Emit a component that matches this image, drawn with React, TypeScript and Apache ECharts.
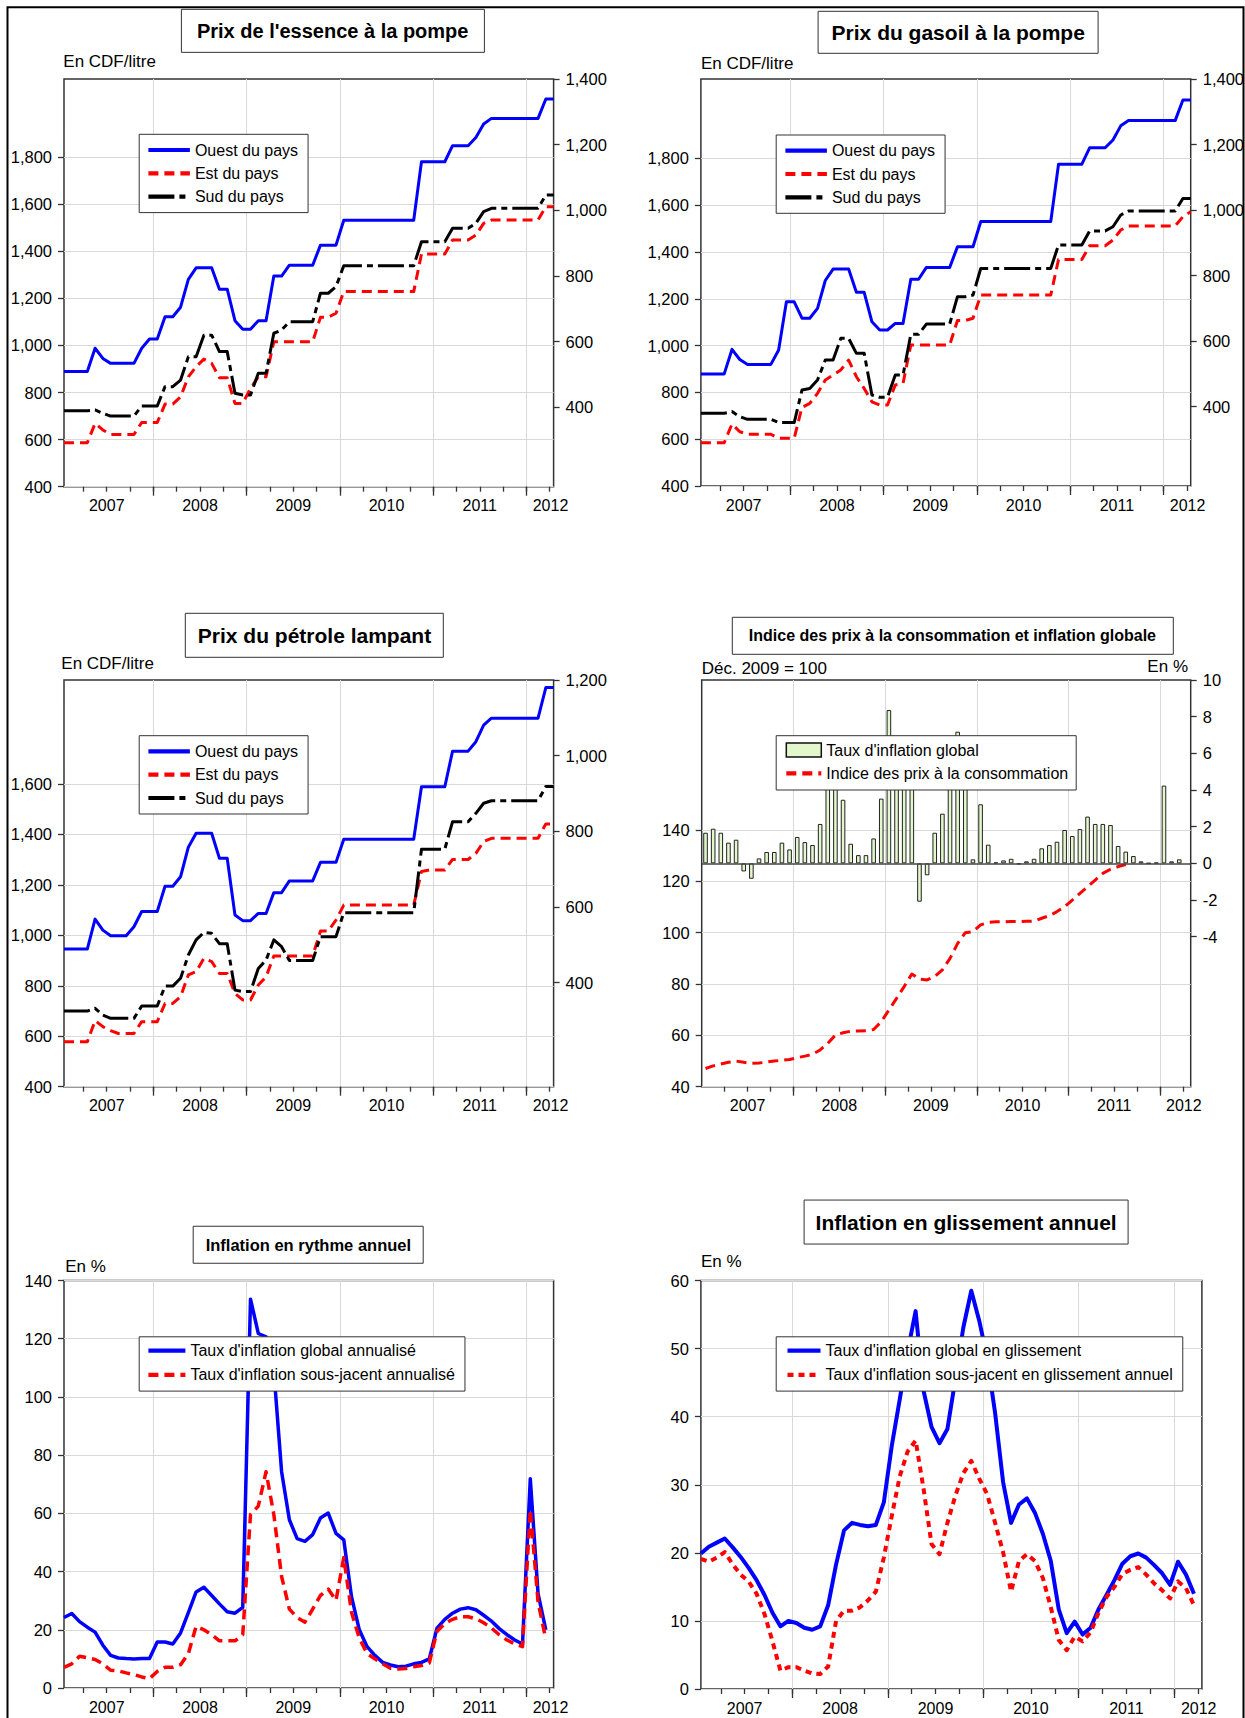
import React, { useEffect, useRef } from 'react';
import * as echarts from 'echarts';

const FONT = "'Liberation Sans', Arial, Helvetica, sans-serif";

// ---------- x axis (monthly, Jan 2007 = index 0) ----------
const YEAR_LABELS = ['2007', '2008', '2009', '2010', '2011', '2012'];
const LABEL_POS = [5.5, 17.5, 29.5, 41.5, 53.5, 62.6];
const QUARTER_TICKS = [2.5, 5.5, 8.5, 11.5, 14.5, 17.5, 20.5, 23.5, 26.5, 29.5, 32.5, 35.5, 38.5, 41.5, 44.5, 47.5, 50.5, 53.5, 56.5, 59.5, 62.5];
const YEAR_TICKS = [11.5, 23.5, 35.5, 47.5, 59.5];
// bar panel (slots, bar i centred at i + 0.5)
const LABEL_POS_BAR = [6, 18, 30, 42, 54, 63.1];
const QUARTER_TICKS_BAR = [3, 6, 9, 12, 15, 18, 21, 24, 27, 30, 33, 36, 39, 42, 45, 48, 51, 54, 57, 60, 63];
const YEAR_TICKS_BAR = [12, 24, 36, 48, 60];

// ---------- y tick labels ----------
const PRICE_LEFT_TICKS = [400, 600, 800, 1000, 1200, 1400, 1600, 1800];
const PRICE_RIGHT_TICKS = [400, 600, 800, 1000, 1200, 1400];
const PETROLE_LEFT_TICKS = [400, 600, 800, 1000, 1200, 1400, 1600];
const PETROLE_RIGHT_TICKS = [400, 600, 800, 1000, 1200];
const IPC_TICKS = [40, 60, 80, 100, 120, 140];
const INFL_TICKS = [-4, -2, 0, 2, 4, 6, 8, 10];
const RYTHME_TICKS = [0, 20, 40, 60, 80, 100, 120, 140];
const GLISSEMENT_TICKS = [0, 10, 20, 30, 40, 50, 60];

// ---------- Prix de l'essence (CDF/litre) ----------
const ESSENCE_OUEST = [509, 509, 509, 509, 580, 549, 534, 534, 534, 534, 580, 608, 608, 676, 676, 705, 790, 825, 825, 825, 760, 760, 664, 638, 638, 664, 664, 800, 800, 833, 833, 833, 833, 894, 894, 894, 970, 970, 970, 970, 970, 970, 970, 970, 970, 970, 1148, 1148, 1148, 1148, 1197, 1197, 1197, 1222, 1263, 1280, 1280, 1280, 1280, 1280, 1280, 1280, 1339, 1339];
const ESSENCE_EST = [587, 587, 587, 587, 669, 641, 622, 622, 622, 622, 673, 673, 673, 751, 751, 782, 867, 910, 942, 924, 863, 863, 754, 754, 818, 867, 867, 1016, 1016, 1016, 1016, 1016, 1016, 1120, 1120, 1137, 1229, 1229, 1229, 1229, 1229, 1229, 1229, 1229, 1229, 1229, 1389, 1389, 1389, 1389, 1448, 1448, 1448, 1469, 1519, 1533, 1533, 1533, 1533, 1533, 1533, 1533, 1590, 1590];
const ESSENCE_SUD = [723, 723, 723, 723, 726, 712, 700, 700, 700, 700, 743, 743, 743, 825, 825, 853, 952, 952, 1044, 1044, 974, 974, 797, 790, 790, 882, 882, 1052, 1066, 1101, 1101, 1101, 1101, 1222, 1222, 1250, 1339, 1339, 1339, 1339, 1339, 1339, 1339, 1339, 1339, 1339, 1441, 1441, 1441, 1441, 1498, 1498, 1498, 1519, 1569, 1583, 1583, 1583, 1583, 1583, 1583, 1583, 1639, 1639];

// ---------- Prix du gasoil ----------
const GASOIL_OUEST = [500, 500, 500, 500, 575, 544, 529, 529, 529, 529, 573, 720, 720, 670, 670, 700, 785, 820, 820, 820, 749, 749, 659, 634, 634, 654, 654, 789, 789, 825, 825, 825, 825, 888, 888, 888, 965, 965, 965, 965, 965, 965, 965, 965, 965, 965, 1140, 1140, 1140, 1140, 1190, 1190, 1190, 1214, 1257, 1273, 1273, 1273, 1273, 1273, 1273, 1273, 1336, 1336];
const GASOIL_EST = [585, 585, 585, 585, 665, 632, 621, 621, 621, 621, 604, 604, 604, 736, 753, 796, 853, 874, 896, 938, 867, 817, 760, 746, 746, 832, 839, 1003, 1003, 1003, 1003, 1003, 1003, 1107, 1107, 1117, 1216, 1216, 1216, 1216, 1216, 1216, 1216, 1216, 1216, 1216, 1368, 1368, 1368, 1368, 1427, 1427, 1427, 1451, 1494, 1511, 1511, 1511, 1511, 1511, 1511, 1511, 1551, 1572];
const GASOIL_SUD = [711, 711, 711, 711, 718, 696, 685, 685, 685, 685, 671, 671, 671, 810, 817, 853, 938, 938, 1031, 1031, 967, 967, 789, 779, 779, 874, 874, 1048, 1048, 1092, 1092, 1092, 1092, 1209, 1209, 1216, 1330, 1330, 1330, 1330, 1330, 1330, 1330, 1330, 1330, 1330, 1430, 1430, 1430, 1430, 1490, 1490, 1490, 1508, 1558, 1575, 1575, 1575, 1575, 1575, 1575, 1575, 1629, 1629];

// ---------- Prix du pétrole lampant ----------
const PETROLE_OUEST = [489, 489, 489, 489, 568, 539, 524, 524, 524, 548, 588, 588, 588, 655, 655, 680, 758, 795, 795, 795, 729, 729, 579, 564, 564, 583, 583, 638, 638, 669, 669, 669, 669, 718, 718, 718, 779, 779, 779, 779, 779, 779, 779, 779, 779, 779, 918, 918, 918, 918, 1012, 1012, 1012, 1037, 1081, 1099, 1099, 1099, 1099, 1099, 1099, 1099, 1180, 1180];
const PETROLE_EST = [578, 578, 578, 578, 662, 638, 622, 611, 611, 611, 658, 658, 658, 730, 730, 757, 843, 856, 909, 896, 849, 849, 770, 744, 744, 803, 836, 918, 918, 918, 918, 918, 918, 1017, 1017, 1061, 1120, 1120, 1120, 1120, 1120, 1120, 1120, 1120, 1120, 1120, 1253, 1259, 1259, 1259, 1301, 1301, 1301, 1325, 1372, 1385, 1385, 1385, 1385, 1385, 1385, 1385, 1442, 1442];
const PETROLE_SUD = [700, 700, 700, 700, 711, 684, 671, 671, 671, 671, 720, 720, 720, 799, 799, 830, 922, 982, 1012, 1008, 967, 967, 783, 777, 777, 869, 902, 982, 955, 900, 900, 900, 900, 995, 995, 995, 1090, 1090, 1090, 1090, 1090, 1090, 1090, 1090, 1090, 1090, 1342, 1342, 1342, 1342, 1451, 1451, 1451, 1484, 1524, 1534, 1534, 1534, 1534, 1534, 1534, 1534, 1590, 1590];

// ---------- IPC (Déc. 2009 = 100) et inflation mensuelle (%) ----------
const INFLATION_GLOBALE = [1.67, 1.89, 1.67, 1.13, 1.29, -0.44, -0.84, 0.27, 0.62, 0.62, 1.13, 0.76, 1.44, 1.16, 1.0, 2.15, 4.9, 5.5, 3.47, 1.07, 0.45, 0.45, 1.36, 3.53, 8.36, 6.5, 6.3, 6.0, -2.09, -0.65, 1.67, 2.71, 5.2, 7.18, 4.6, 0.22, 3.22, 1.02, 0.05, 0.16, 0.25, -0.05, 0.11, 0.25, 0.82, 1.0, 1.18, 1.82, 1.49, 1.87, 2.55, 2.15, 2.15, 2.09, 0.95, 0.64, 0.4, 0.11, 0.01, 0.04, 4.24, 0.11, 0.22];
const IPC = [47.1, 48.1, 48.8, 49.5, 50.0, 49.5, 49.1, 49.2, 49.6, 50.0, 50.3, 50.6, 51.3, 51.9, 52.6, 54.3, 56.9, 60.1, 61.0, 61.6, 61.7, 61.8, 62.3, 65.3, 69.9, 74.4, 79.0, 83.9, 81.9, 81.6, 82.9, 85.5, 90.0, 95.8, 100.0, 100.4, 103.0, 104.0, 104.2, 104.2, 104.3, 104.3, 104.4, 104.5, 105.6, 106.6, 108.2, 110.1, 112.7, 115.3, 117.9, 120.5, 123.1, 124.7, 125.7, 126.5];

// ---------- Inflation en rythme annuel (%) ----------
const RYTHME_GLOBAL = [24.2, 25.6, 22.8, 20.9, 19.2, 14.7, 11.2, 10.3, 10.1, 10.0, 10.1, 10.1, 15.8, 15.8, 15.1, 18.9, 25.9, 33.0, 34.6, 31.8, 28.9, 26.2, 25.7, 27.7, 133.6, 121.8, 120.6, 109, 74.3, 57.8, 51.3, 50.4, 52.7, 58.4, 60.1, 53.1, 50.9, 31.3, 20.0, 14.2, 11.2, 8.8, 7.9, 7.3, 7.5, 8.3, 8.8, 10.0, 20.6, 23.6, 25.7, 27.1, 27.6, 26.9, 25.0, 23.0, 20.4, 18.3, 16.5, 15.1, 71.9, 32.4, 20.0];
const RYTHME_SOUS_JACENT = [7.1, 8.3, 10.9, 10.4, 9.8, 8.3, 6.1, 5.9, 5.2, 4.6, 3.8, 3.2, 5.7, 7.1, 7.1, 8.0, 11.8, 21.2, 20.0, 18.3, 16.2, 16.2, 16.2, 18.3, 59.6, 62.5, 74.3, 59.6, 38.3, 27.1, 24.2, 22.6, 27.1, 31.8, 34.0, 30.1, 44.8, 25.9, 17.1, 11.8, 10.0, 8.3, 6.8, 6.5, 6.7, 7.3, 7.7, 8.6, 19.5, 22.1, 23.6, 24.5, 24.5, 23.8, 22.4, 20.6, 18.3, 16.5, 15.1, 14.2, 61.3, 29.5, 16.7];

// ---------- Inflation en glissement annuel (%) ----------
const GLISSEMENT_GLOBAL = [19.9, 20.9, 21.5, 22.1, 20.8, 19.4, 17.8, 16.0, 13.8, 11.2, 9.2, 10.0, 9.7, 9.0, 8.7, 9.2, 12.3, 18.3, 23.3, 24.4, 24.1, 23.9, 24.1, 27.4, 35.7, 42.5, 49.6, 55.5, 43.8, 38.5, 36.1, 38.2, 45.5, 53.1, 58.5, 54.1, 48.6, 40.5, 30.4, 24.4, 27.1, 28.0, 25.9, 22.8, 18.8, 11.7, 8.2, 9.9, 8.0, 9.0, 11.7, 13.8, 16.0, 18.4, 19.5, 19.9, 19.3, 18.2, 17.0, 15.3, 18.7, 16.8, 14.0];
const GLISSEMENT_SOUS_JACENT = [19.1, 18.7, 19.3, 20.1, 18.3, 16.8, 15.8, 14.0, 11.0, 7.0, 2.7, 3.2, 3.2, 2.7, 2.3, 2.2, 3.3, 10.0, 11.5, 11.5, 12.0, 13.0, 14.3, 19.3, 25.4, 31.2, 34.9, 36.5, 29.4, 21.3, 19.8, 24.4, 28.4, 31.7, 33.5, 30.9, 28.6, 24.4, 20.1, 14.3, 18.8, 19.8, 18.8, 16.3, 12.0, 7.2, 5.7, 7.7, 7.0, 8.3, 11.2, 13.5, 15.0, 16.9, 17.5, 17.9, 16.8, 15.5, 14.5, 13.3, 15.8, 14.8, 12.3];

const BLUE = '#0000ff';
const RED = '#ff0000';
const BLACK = '#000000';
const GRID_LINE = '#d9d9d9';
const FRAME = '#333333';

function fmtNum(v: number): string {
  const r = Math.round(v);
  if (r >= 1000) return Math.floor(r / 1000) + ',' + String(r % 1000).padStart(3, '0');
  return String(r);
}

function buildOption() {
  const grid: any[] = [];
  const xAxis: any[] = [];
  const yAxis: any[] = [];
  const series: any[] = [];

  const tickLine = { color: FRAME, width: 1.3 };

  function panel(rect: number[], xMax: number, minor: number[], major: number[], labelPos: number[], yDefs: any[]) {
    const gi = grid.length;
    grid.push({
      left: rect[0], top: rect[1], width: rect[2], height: rect[3],
      show: true, borderColor: FRAME, borderWidth: 1.5, backgroundColor: 'rgba(0,0,0,0)',
      containLabel: false, outerBoundsMode: 'none',
    });
    const xi = xAxis.length;
    xAxis.push({
      type: 'value', gridIndex: gi, min: 0, max: xMax, position: 'bottom',
      axisLine: { show: false, onZero: false },
      axisTick: { show: true, length: 5, customValues: minor, lineStyle: tickLine },
      axisLabel: {
        show: true, customValues: labelPos, margin: 11,
        formatter: (v: number) => { const k = labelPos.indexOf(v); return k >= 0 ? YEAR_LABELS[k] : ''; },
        color: '#000', fontSize: 16, fontFamily: FONT,
      },
      splitLine: { show: false },
    });
    xAxis.push({
      type: 'value', gridIndex: gi, min: 0, max: xMax, position: 'bottom',
      axisLine: { show: false, onZero: false },
      axisTick: { show: true, length: 9, customValues: major, lineStyle: tickLine },
      axisLabel: { show: false },
      splitLine: { show: true, lineStyle: { color: GRID_LINE, width: 1 } },
    });
    const yIdx = yDefs.map((d) => {
      const yi = yAxis.length;
      yAxis.push({
        type: 'value', gridIndex: gi, position: d.pos, min: d.min, max: d.max,
        axisLine: { show: false, onZero: false },
        axisTick: { show: true, length: 6, customValues: d.ticks, lineStyle: tickLine },
        axisLabel: { show: true, customValues: d.ticks, margin: 12, formatter: fmtNum, color: '#000', fontSize: 16.5, fontFamily: FONT },
        splitLine: { show: d.split, lineStyle: { color: GRID_LINE, width: 1 } },
      });
      return yi;
    });
    return { xi, yIdx };
  }

  function line(name: string, xi: number, yi: number, values: number[], color: string, width: number, dash: any, offset = 0) {
    return {
      type: 'line', name, xAxisIndex: xi, yAxisIndex: yi,
      data: values.map((v, i) => [i + offset, v]),
      symbol: 'none', showSymbol: false, silent: true, z: 3,
      lineStyle: { color, width, type: dash, cap: 'butt', join: 'round' },
      itemStyle: { color },
    };
  }

  const DASH_RED = [10, 6];
  const DASH_BLACK = [26, 5, 6, 5];

  // Panel 1 : essence
  const p1 = panel([64, 79, 489.6, 407.7], 63, QUARTER_TICKS, YEAR_TICKS, LABEL_POS, [
    { pos: 'left', min: 400, max: 2132.3, ticks: PRICE_LEFT_TICKS, split: true },
    { pos: 'right', min: 158.4, max: 1400, ticks: PRICE_RIGHT_TICKS, split: false },
  ]);
  series.push(line('Ouest du pays', p1.xi, p1.yIdx[1], ESSENCE_OUEST, BLUE, 3, 'solid'));
  series.push(line('Est du pays', p1.xi, p1.yIdx[0], ESSENCE_EST, RED, 3, DASH_RED));
  series.push(line('Sud du pays', p1.xi, p1.yIdx[0], ESSENCE_SUD, BLACK, 3, DASH_BLACK));

  // Panel 2 : gasoil
  const p2 = panel([700.9, 79, 489.8, 407], 63, QUARTER_TICKS, YEAR_TICKS, LABEL_POS, [
    { pos: 'left', min: 400, max: 2139.3, ticks: PRICE_LEFT_TICKS, split: true },
    { pos: 'right', min: 157.9, max: 1400, ticks: PRICE_RIGHT_TICKS, split: false },
  ]);
  series.push(line('Ouest du pays', p2.xi, p2.yIdx[1], GASOIL_OUEST, BLUE, 3, 'solid'));
  series.push(line('Est du pays', p2.xi, p2.yIdx[0], GASOIL_EST, RED, 3, DASH_RED));
  series.push(line('Sud du pays', p2.xi, p2.yIdx[0], GASOIL_SUD, BLACK, 3, DASH_BLACK));

  // Panel 3 : pétrole lampant
  const p3 = panel([64, 680, 489.6, 406.7], 63, QUARTER_TICKS, YEAR_TICKS, LABEL_POS, [
    { pos: 'left', min: 400, max: 2012.6, ticks: PETROLE_LEFT_TICKS, split: true },
    { pos: 'right', min: 125.1, max: 1200, ticks: PETROLE_RIGHT_TICKS, split: false },
  ]);
  series.push(line('Ouest du pays', p3.xi, p3.yIdx[1], PETROLE_OUEST, BLUE, 3, 'solid'));
  series.push(line('Est du pays', p3.xi, p3.yIdx[0], PETROLE_EST, RED, 3, DASH_RED));
  series.push(line('Sud du pays', p3.xi, p3.yIdx[0], PETROLE_SUD, BLACK, 3, DASH_BLACK));

  // Panel 4 : IPC et inflation globale
  const p4 = panel([701.7, 680, 489, 406.7], 64, QUARTER_TICKS_BAR, YEAR_TICKS_BAR, LABEL_POS_BAR, [
    { pos: 'left', min: 40, max: 198.4, ticks: IPC_TICKS, split: true },
    { pos: 'right', min: -12.18, max: 10, ticks: INFL_TICKS, split: false },
  ]);
  series.push({
    type: 'bar', name: "Taux d'inflation global", xAxisIndex: p4.xi, yAxisIndex: p4.yIdx[1],
    data: INFLATION_GLOBALE.map((v, i) => [i + 0.5, v]),
    barWidth: 4.6, silent: true, z: 2,
    itemStyle: { color: '#e2f7cb', borderColor: '#222', borderWidth: 1 },
    markLine: {
      silent: true, symbol: 'none', label: { show: false },
      lineStyle: { color: '#444', width: 1.6, type: 'solid' },
      data: [{ yAxis: 0 }],
    },
  });
  series.push(line('Indice des prix à la consommation', p4.xi, p4.yIdx[0], IPC, RED, 3, DASH_RED, 0.5));

  // Panel 5 : rythme annuel
  const p5 = panel([64, 1280.5, 489.6, 407.5], 63, QUARTER_TICKS, YEAR_TICKS, LABEL_POS, [
    { pos: 'left', min: 0, max: 140, ticks: RYTHME_TICKS, split: true },
  ]);
  series.push(line("Taux d'inflation global annualisé", p5.xi, p5.yIdx[0], RYTHME_GLOBAL, BLUE, 3.5, 'solid'));
  series.push(line("Taux d'inflation sous-jacent annualisé", p5.xi, p5.yIdx[0], RYTHME_SOUS_JACENT, RED, 3.5, DASH_RED));

  // Panel 6 : glissement annuel
  const p6 = panel([700.9, 1280.5, 501, 408.5], 63, QUARTER_TICKS, YEAR_TICKS, LABEL_POS, [
    { pos: 'left', min: 0, max: 60, ticks: GLISSEMENT_TICKS, split: true },
  ]);
  series.push(line("Taux d'inflation global en glissement", p6.xi, p6.yIdx[0], GLISSEMENT_GLOBAL, BLUE, 4, 'solid'));
  series.push(line("Taux d'inflation sous-jacent en glissement annuel", p6.xi, p6.yIdx[0], GLISSEMENT_SOUS_JACENT, RED, 4, [6, 5]));

  const legendBase = {
    orient: 'vertical', backgroundColor: '#fff', borderColor: FRAME, borderWidth: 1,
    itemHeight: 14, selectedMode: false, z: 10,
    textStyle: { fontSize: 16, color: '#000', fontFamily: FONT },
    itemStyle: { opacity: 0 },
    lineStyle: { width: 4.2 },
  };
  const legend = [
    { ...legendBase, left: 139.2, top: 134.3, padding: [7.7, 10, 8, 7.1], itemWidth: 41.5, itemGap: 7.3, data: ['Ouest du pays', 'Est du pays', 'Sud du pays'] },
    { ...legendBase, left: 776.2, top: 135, padding: [7.7, 10, 8, 7.1], itemWidth: 41.5, itemGap: 7.3, data: ['Ouest du pays', 'Est du pays', 'Sud du pays'] },
    { ...legendBase, left: 139.2, top: 735.7, padding: [7.7, 10, 8, 7.1], itemWidth: 41.5, itemGap: 7.3, data: ['Ouest du pays', 'Est du pays', 'Sud du pays'] },
    {
      ...legendBase, left: 776.2, top: 735.7, padding: [6.3, 8, 8.7, 8], itemWidth: 35, itemGap: 7.3,
      data: [{ name: "Taux d'inflation global", icon: 'rect', itemStyle: { opacity: 1, borderWidth: 1.5, borderColor: '#111' } }, 'Indice des prix à la consommation'],
    },
    { ...legendBase, left: 139.2, top: 1336.8, padding: [5.8, 10, 8.2, 7.1], itemWidth: 37, itemGap: 8.3, data: ["Taux d'inflation global annualisé", "Taux d'inflation sous-jacent annualisé"] },
    { ...legendBase, left: 776.2, top: 1336.8, padding: [5.8, 10, 8.2, 9.2], itemWidth: 33, itemGap: 8.3, data: ["Taux d'inflation global en glissement", "Taux d'inflation sous-jacent en glissement annuel"] },
  ];

  const tBox = (text: string, left: number, top: number, size: number, pv: number, ph: number) => ({
    text, left, top, padding: [pv, ph], borderColor: FRAME, borderWidth: 1,
    textStyle: { fontSize: size, fontWeight: 'bold', lineHeight: size, color: '#000', fontFamily: FONT },
  });
  const tNote = (text: string, pos: any) => ({
    text, ...pos, padding: 0,
    textStyle: { fontSize: 17, fontWeight: 'normal', lineHeight: 17, color: '#000', fontFamily: FONT },
  });

  const title = [
    tBox("Prix de l'essence à la pompe", 180.7, 9, 20, 11.85, 16.2),
    tBox('Prix du gasoil à la pompe', 818, 10.7, 21, 11.1, 13.6),
    tBox('Prix du pétrole lampant', 185.4, 613.3, 21, 11.5, 12.4),
    tBox('Indice des prix à la consommation et inflation globale', 731.6, 617.3, 16, 10.5, 17.2),
    tBox('Inflation en rythme annuel', 193, 1226.3, 16.5, 10.45, 12.7),
    tBox('Inflation en glissement annuel', 804.1, 1199.9, 21, 11.65, 11.5),
    tNote('En CDF/litre', { left: 63.3, top: 52.8 }),
    tNote('En CDF/litre', { left: 700.9, top: 54.5 }),
    tNote('En CDF/litre', { left: 61.3, top: 654.5 }),
    tNote('Déc. 2009 = 100', { left: 701.7, top: 659.5 }),
    tNote('En %', { right: 57, top: 657.8 }),
    tNote('En %', { left: 65.2, top: 1258.4 }),
    tNote('En %', { left: 700.9, top: 1253.3 }),
  ];

  return {
    animation: false,
    backgroundColor: '#ffffff',
    title,
    legend,
    grid,
    xAxis,
    yAxis,
    series,
    graphic: [
      {
        type: 'rect', silent: true, z: 100,
        shape: { x: 7.5, y: 7.3, width: 1236, height: 1730 },
        style: { fill: 'none', stroke: '#000', lineWidth: 2 },
      },
    ],
  };
}

export default function App() {
  const ref = useRef<HTMLDivElement>(null);
  useEffect(() => {
    if (!ref.current) return;
    const chart = echarts.init(ref.current, null, { renderer: 'svg', width: 1245, height: 1718 });
    chart.setOption(buildOption() as any);
    return () => chart.dispose();
  }, []);
  return (
    <div
      ref={ref}
      style={{ position: 'absolute', left: 0, top: 0, width: 1245, height: 1718, background: '#fff' }}
    />
  );
}
